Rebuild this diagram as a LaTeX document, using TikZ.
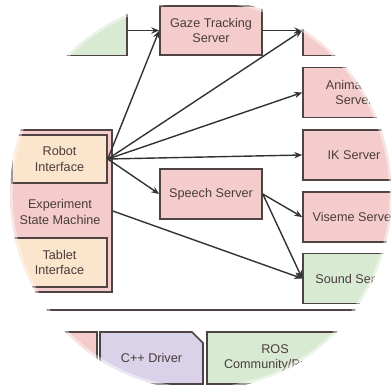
\documentclass[tikz,border=0pt]{standalone}
\usepackage{fontspec}
\setmainfont{Liberation Sans}
\usetikzlibrary{arrows.meta}
\definecolor{boxred}{HTML}{F4CCCC}
\definecolor{boxsand}{HTML}{FCE5CD}
\definecolor{boxgreen}{HTML}{D9EAD3}
\definecolor{boxlilac}{HTML}{D9D2E9}
\definecolor{boxline}{HTML}{4F4343}
\definecolor{boxtext}{HTML}{4A3C3C}
\definecolor{arrline}{HTML}{333333}
\begin{document}
\begin{tikzpicture}[x=0.02cm,y=-0.02cm,
    box/.style={draw=boxline,line width=0.9pt,fill=boxred,align=center,
        text=boxtext,font=\fontsize{7.2}{8.6}\selectfont,inner sep=0pt,
        minimum width=2.04cm,minimum height=1.0cm},
    lbl/.style={align=center,text=boxtext,font=\fontsize{7.2}{8.6}\selectfont},
    arr/.style={-{Stealth[length=4.5pt,width=3.6pt]},draw=arrline,line width=0.8pt}]

    \useasboundingbox (0,0) rectangle (391,389);

    \begin{scope}
        \clip (201,194.5) ellipse [x radius=3.82cm, y radius=3.91cm];

        % top row
        \node[box,fill=boxgreen] (tracker) at (76,30.5) {};
        \node[box,minimum height=0.98cm] (gaze) at (211,30.5) {Gaze Tracking\\Server};

        % right column
        \node[box] (head) at (354,30.5) {};
        \node[box] (anim) at (354,92.5) {Animation\\Server};
        \node[box] (ik) at (354,155) {IK Server};
        \node[box] (viseme) at (354,217) {Viseme Server};
        \node[box,fill=boxgreen] (sound) at (354,278.5) {Sound Server};

        \node[box] (speech) at (211,194) {Speech Server};

        % state machine with its two interfaces
        \node[box,minimum width=2.24cm,minimum height=3.24cm] (esm) at (56,211) {};
        \node[lbl] (esmtext) at (60,212) {Experiment\\State Machine};
        \node[box,fill=boxsand,minimum width=1.9cm,minimum height=0.96cm] (robot) at (59.5,159) {Robot\\Interface};
        \node[box,fill=boxsand,minimum width=1.9cm,minimum height=0.98cm] (tablet) at (59.5,262.5) {Tablet\\Interface};

        % arrows
        \draw[arr] (tracker) -- (gaze);
        \draw[arr] (gaze) -- (head);
        \draw[arr] (robot.east) -- (gaze.west);
        \draw[arr] (robot.east) -- (head.west);
        \draw[arr] (robot.east) -- (anim.west);
        \draw[arr] (robot.east) -- (ik.west);
        \draw[arr] (robot.east) -- (speech.west);
        \draw[arr] (esm.east) -- (sound.west);
        \draw[arr] (speech.east) -- (viseme.west);
        \draw[arr] (speech.east) -- (sound.west);

        % separator
        \coordinate (sepl) at (0,310);
        \coordinate (sepr) at (400,310);
        \draw[boxline,line width=0.9pt] (sepl) -- (sepr);

        % bottom row
        \node[box,minimum width=2.14cm,minimum height=1.04cm] (lowleft) at (43.5,358) {};
        \filldraw[draw=boxline,line width=0.9pt,fill=boxlilac]
            (100,332) -- (192,332) -- (203,343) -- (203,384) -- (100,384) -- cycle; % dog-ear
        \node[lbl] (cpp) at (151.5,358) {C++ Driver};
        \node[box,fill=boxgreen,minimum width=2.72cm,minimum height=1.04cm] (ros) at (275,358) {ROS\\Community/Public};

        % soft rim
        \draw[white,opacity=0.45,line width=3pt] (201,194.5) ellipse [x radius=3.82cm, y radius=3.91cm];
    \end{scope}
\end{tikzpicture}
\end{document}
